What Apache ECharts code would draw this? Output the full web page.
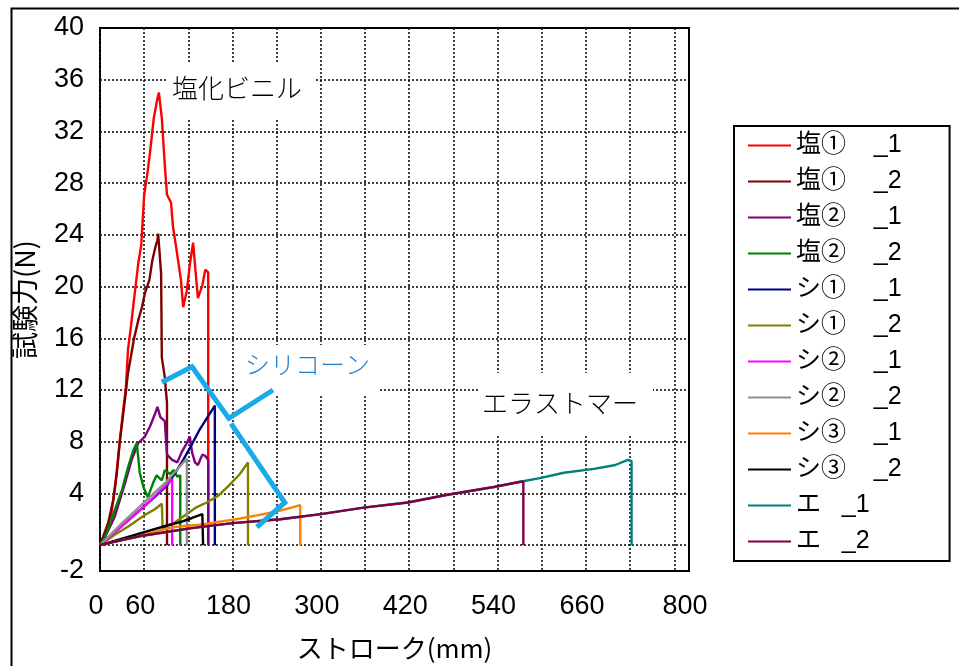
<!DOCTYPE html>
<html>
<head>
<meta charset="utf-8">
<script src="https://cdn.jsdelivr.net/npm/echarts@6/dist/echarts.min.js"></script>
<style>
  html, body { margin: 0; padding: 0; background: #fff; }
  #chart { width: 959px; height: 666px; }
</style>
</head>
<body>
<div id="chart"></div>
<script>
// Stroke (mm) vs. test force (N) for each specimen, as [stroke, force] pairs
const vinyl1_1 = [[0,0],[14,1.9],[20,4.3],[29.5,9.4],[33,11.2],[35,12],[38,15.1],[42,16.9],[46,18.9],[52,21.8],[56,23.2],[60,27.1],[64,28.6],[68,30.4],[73,33],[77.5,34.4],[80,35],[84,33],[86,31.2],[88,29.4],[91,27.1],[96.5,26.5],[99,24.7],[103,23.2],[110,20.5],[113,18.4],[118,19.7],[122,21.7],[126.5,23.4],[130.5,20.7],[133,19.1],[139,20.1],[143,21.3],[147,21.1],[147,0]];
const vinyl1_2 = [[0,0],[11,1.7],[18,3.5],[23,5.6],[27,8.1],[31,9.9],[35,11.8],[38,13.3],[46,15.9],[52,17.4],[57,18.4],[61,19.5],[67,20.5],[71,22],[75,23],[78,23.6],[79,24.1],[80.5,24],[83,21],[84,14.5],[88,13],[91,11],[91,0]];
const vinyl2_1 = [[0,0],[10,1],[20,2.2],[34,4.8],[43,6.6],[52,7.9],[61,8.4],[68,9.2],[75,10.2],[78,10.7],[82,9.9],[88,9.6],[91,7],[98,6.6],[105,6.4],[111,7.2],[118,7.9],[122,8.4],[125,7.2],[129,6.4],[133,6.2],[139,7.0],[143,6.9],[147,6.6],[147,0]];
const vinyl2_2 = [[0,0],[7,0.6],[20,2.7],[30,4.3],[38,6],[45,7.3],[50,7.9],[54,5.6],[59,4.5],[65,3.7],[72,4.8],[77,5.4],[84,5.0],[88,5.8],[95,5.5],[100,5.8],[105,5.3],[109,5.4],[109,0]];
const sil1_1 = [[0,0],[40,2.0],[70,3.5],[91,4.6],[100,5.4],[113,6.6],[122,7.5],[136,9.0],[145,9.8],[156,10.8],[156,0]];
const sil1_2 = [[0,0],[20,0.8],[40,1.5],[60,2.3],[75,2.8],[84,3.2],[85,1.3],[100,1.7],[115,2.3],[130,2.9],[145,3.3],[160,3.8],[175,4.6],[190,5.5],[201,6.4],[201,0]];
const sil2_1 = [[0,0],[30,1.5],[60,3.0],[98,5.1],[98,0]];
const sil2_2 = [[0,0],[30,1.7],[60,3.3],[90,4.9],[118,6.7],[118,0]];
const sil3_1 = [[0,0],[50,0.7],[100,1.4],[140,1.6],[160,1.8],[185,2.0],[213,2.3],[240,2.6],[260,2.9],[272,3.1],[272,0]];
const sil3_2 = [[0,0],[30,0.5],[60,1.0],[90,1.5],[110,1.8],[125,2.1],[139,2.4],[140,0]];
const elast1 = [[0,0],[30,0.4],[60,0.75],[122,1.3],[180,1.7],[245,2.0],[300,2.4],[358,2.9],[418,3.3],[472,3.9],[535,4.5],[571,4.9],[599,5.2],[630,5.6],[671,5.9],[700,6.2],[717,6.6],[722,6.5],[722,0]];
const elast2 = [[0,0],[30,0.4],[60,0.75],[122,1.3],[180,1.7],[245,2.0],[300,2.4],[358,2.9],[418,3.3],[472,3.9],[535,4.5],[571,4.9],[575,4.9],[575,0]];

// Bracket marking the silicone group, in data coordinates (null splits the two strokes)
const siliconeBracket = [[84,12.6],[125,13.8],[175,9.8],[235,12.0],[null,null],[178,9.4],[251,3.3],[213,1.4]];

const seriesNames = ['塩①    _1','塩①    _2','塩②    _1','塩②    _2','シ①    _1','シ①    _2','シ②    _1','シ②    _2','シ③    _1','シ③    _2','エ   _1','エ   _2'];
const seriesData = [vinyl1_1, vinyl1_2, vinyl2_1, vinyl2_2, sil1_1, sil1_2, sil2_1, sil2_2, sil3_1, sil3_2, elast1, elast2];
const seriesColors = ['#ff0000','#800000','#800080','#008000','#000080','#808000','#ff00ff','#909090','#ff8000','#000000','#008080','#800040'];

// Axis ticks and labels
const xGridValues = [0,60,120,180,240,300,360,420,480,540,600,660,720,780];
const xLabelValues = [0,60,180,300,420,540,660,800];
const yGridValues = [0,4,8,12,16,20,24,28,32,36];
const yLabelValues = [-2,4,8,12,16,20,24,28,32,36,40];

const chart = echarts.init(document.getElementById('chart'), null, { renderer: 'canvas' });

const labelFont = { fontFamily: 'Liberation Sans', fontSize: 27, color: '#000' };
const gridLine = { show: true, lineStyle: { color: '#111', width: 1.6, type: [2, 2] } };

const series = seriesData.map((d, i) => ({
  name: seriesNames[i],
  type: 'line',
  data: d,
  showSymbol: false,
  symbol: 'none',
  color: seriesColors[i],
  lineStyle: { width: 2.4, color: seriesColors[i] },
  z: 2 + i * 0.01,
  animation: false
}));
series.push({
  name: 'bracket',
  type: 'line',
  data: siliconeBracket,
  showSymbol: false,
  symbol: 'none',
  connectNulls: false,
  lineStyle: { width: 5, color: '#19aae8', join: 'miter' },
  z: 10,
  animation: false,
  silent: true
});

chart.setOption({
  animation: false,
  backgroundColor: '#fff',
  grid: {
    left: 100, top: 28, right: 270, bottom: 94,
    show: true, borderColor: '#000', borderWidth: 2, backgroundColor: 'transparent'
  },
  xAxis: {
    type: 'value', min: 0, max: 800,
    name: 'ストローク(mm)', nameLocation: 'middle', nameGap: 64,
    nameTextStyle: { fontFamily: 'Noto Sans CJK JP', fontSize: 26, color: '#000' },
    axisLine: { show: false },
    axisTick: { show: false, customValues: xGridValues },
    axisLabel: { customValues: xLabelValues, margin: 22, padding: [0, 8, 0, 0], ...labelFont },
    splitLine: gridLine
  },
  yAxis: {
    type: 'value', min: -2, max: 40,
    name: '試験力(N)', nameLocation: 'middle', nameGap: 62, nameRotate: 90,
    nameTextStyle: { fontFamily: 'Noto Sans CJK JP', fontSize: 27, color: '#000' },
    axisLine: { show: false },
    axisTick: { show: false, customValues: yGridValues },
    axisLabel: { customValues: yLabelValues, margin: 16, ...labelFont },
    splitLine: gridLine
  },
  legend: {
    orient: 'vertical',
    left: 734, top: 126,
    data: seriesNames,
    icon: 'rect',
    itemWidth: 43, itemHeight: 2,
    itemGap: 11,
    padding: [7, 48, 7, 14],
    backgroundColor: '#fff',
    borderColor: '#000', borderWidth: 2,
    selectedMode: false,
    textStyle: { fontFamily: '"Liberation Sans", "Noto Sans CJK JP"', fontSize: 25, lineHeight: 24, color: '#000' }
  },
  graphic: [
    { type: 'rect', left: 9, top: 6, shape: { width: 1000, height: 1000 },
      style: { fill: 'none', stroke: '#000', lineWidth: 2 }, z: 0, silent: true },
    { type: 'rect', left: 168, top: 62, shape: { width: 147, height: 56 }, style: { fill: '#fff' }, z: 1 },
    { type: 'rect', left: 240, top: 345, shape: { width: 139, height: 50 }, style: { fill: '#fff' }, z: 1 },
    { type: 'rect', left: 480, top: 373, shape: { width: 173, height: 61 }, style: { fill: '#fff' }, z: 1 },
    { type: 'text', left: 172, top: 75, z: 1,
      style: { text: '塩化ビニル', font: '300 26px "Noto Sans CJK JP"', fill: '#000' } },
    { type: 'text', left: 245, top: 352, z: 1,
      style: { text: 'シリコーン', font: '300 25px "Noto Sans CJK JP"', fill: '#1f80d0' } },
    { type: 'text', left: 482, top: 390, z: 1,
      style: { text: 'エラストマー', font: '300 26px "Noto Sans CJK JP"', fill: '#000' } }
  ],
  series: series
});
</script>
</body>
</html>
